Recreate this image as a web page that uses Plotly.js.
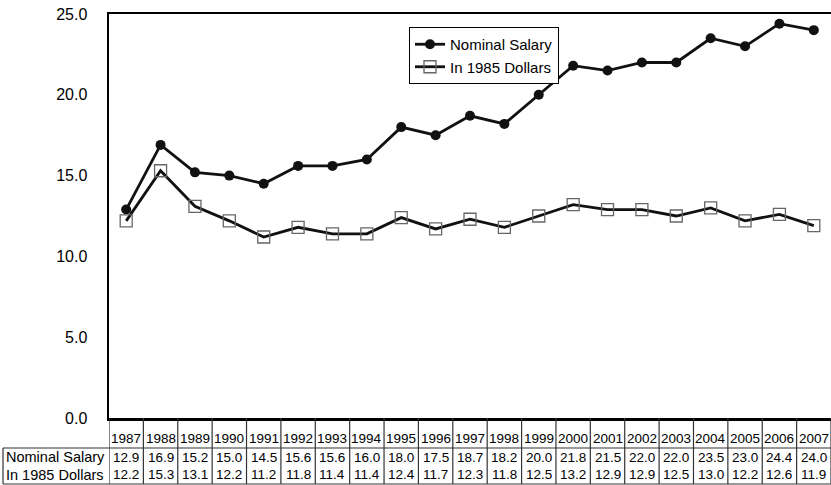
<!DOCTYPE html>
<html>
<head>
<meta charset="utf-8">
<script src="https://cdn.plot.ly/plotly-3.0.1.min.js"></script>
<style>html,body{margin:0;padding:0;background:#fff;}</style>
</head>
<body>
<div id="chart" style="width:831px;height:485px;"></div>
<script>
const years = ["1987","1988","1989","1990","1991","1992","1993","1994","1995","1996","1997","1998","1999","2000","2001","2002","2003","2004","2005","2006","2007"];
const nominalSalary = [12.9,16.9,15.2,15.0,14.5,15.6,15.6,16.0,18.0,17.5,18.7,18.2,20.0,21.8,21.5,22.0,22.0,23.5,23.0,24.4,24.0];
const in1985Dollars = [12.2,15.3,13.1,12.2,11.2,11.8,11.4,11.4,12.4,11.7,12.3,11.8,12.5,13.2,12.9,12.9,12.5,13.0,12.2,12.6,11.9];
const seriesNames = ["Nominal Salary","In 1985 Dollars"];
const yTicks = [0,5,10,15,20,25];

const W = 831, H = 485;
const L = 109, R = 831, T = 14, B = 418;
const plotH = B - T, plotW = R - L;
const py = y => (B - y) / plotH;     // pixel y -> paper y
const px = x => (x - L) / plotW;     // pixel x -> paper x
const idx = years.map((_, i) => i);
const FONT = "Liberation Sans, Arial, sans-serif";

const traces = [
  {
    x: idx, y: nominalSalary, name: seriesNames[0], type: "scatter", mode: "lines+markers",
    line: {color: "#111", width: 2.8},
    marker: {symbol: "circle", size: 10, color: "#111"},
    hoverinfo: "skip"
  },
  {
    x: idx, y: in1985Dollars, name: seriesNames[1], type: "scatter", mode: "lines+markers",
    line: {color: "#111", width: 2.8},
    marker: {symbol: "square-open", size: 12, color: "#666", line: {width: 1.3, color: "#666"}},
    hoverinfo: "skip"
  }
];

const shapes = [];
const annotations = [];
const rowYears = 438, rowNom = 457, rowDol = 475;
const tableTopLine = 448, tableBottom = 484;
const gridLine = {color: "#333", width: 1.2};
for (let i = 0; i <= years.length; i++) {
  shapes.push({type: "line", xref: "x", yref: "paper", x0: i - 0.5, x1: i - 0.5,
    y0: py(B), y1: py(tableBottom), line: gridLine});
}
shapes.push({type: "line", xref: "paper", yref: "paper", x0: px(3), x1: 1,
  y0: py(tableTopLine), y1: py(tableTopLine), line: gridLine});
shapes.push({type: "line", xref: "paper", yref: "paper", x0: px(3), x1: 1,
  y0: py(tableBottom), y1: py(tableBottom), line: gridLine});
shapes.push({type: "line", xref: "paper", yref: "paper", x0: px(3), x1: px(3),
  y0: py(tableTopLine), y1: py(tableBottom), line: gridLine});

const cellFont = {family: FONT, size: 13.5, color: "#000"};
const labelFont = {family: FONT, size: 14.5, color: "#000"};
years.forEach((yr, i) => {
  annotations.push({xref: "x", yref: "paper", x: i, y: py(rowYears), text: yr, showarrow: false,
    font: cellFont, xanchor: "center", yanchor: "middle"});
  annotations.push({xref: "x", yref: "paper", x: i, y: py(rowNom), text: nominalSalary[i].toFixed(1), showarrow: false,
    font: cellFont, xanchor: "center", yanchor: "middle"});
  annotations.push({xref: "x", yref: "paper", x: i, y: py(rowDol), text: in1985Dollars[i].toFixed(1), showarrow: false,
    font: cellFont, xanchor: "center", yanchor: "middle"});
});
annotations.push({xref: "paper", yref: "paper", x: px(55), y: py(rowNom), text: seriesNames[0], showarrow: false,
  font: labelFont, xanchor: "center", yanchor: "middle"});
annotations.push({xref: "paper", yref: "paper", x: px(55), y: py(rowDol), text: seriesNames[1], showarrow: false,
  font: labelFont, xanchor: "center", yanchor: "middle"});

const layout = {
  width: W, height: H,
  margin: {l: L, r: W - R, t: T, b: H - B, pad: 0},
  paper_bgcolor: "#fff", plot_bgcolor: "#fff",
  font: {family: FONT, size: 15, color: "#000"},
  showlegend: true,
  legend: {
    x: px(409), y: py(27), xanchor: "left", yanchor: "top",
    bgcolor: "#fff", bordercolor: "#000", borderwidth: 1,
    font: {family: FONT, size: 15, color: "#000"},
    tracegroupgap: 0, itemwidth: 30
  },
  xaxis: {
    range: [-0.5, years.length - 0.5], showticklabels: false, ticks: "",
    showgrid: false, zeroline: false, showline: true, linecolor: "#000", linewidth: 2.5,
    mirror: true, fixedrange: true
  },
  yaxis: {
    range: [0, 25], tickvals: yTicks, ticktext: yTicks.map(v => v.toFixed(1)),
    showgrid: false, zeroline: false, showline: true, linecolor: "#000", linewidth: 2.5,
    ticks: "", ticklabelstandoff: 16, tickfont: {family: FONT, size: 16, color: "#000"},
    fixedrange: true
  },
  shapes: shapes,
  annotations: annotations
};

Plotly.newPlot("chart", traces, layout, {displayModeBar: false, staticPlot: true});
</script>
</body>
</html>
